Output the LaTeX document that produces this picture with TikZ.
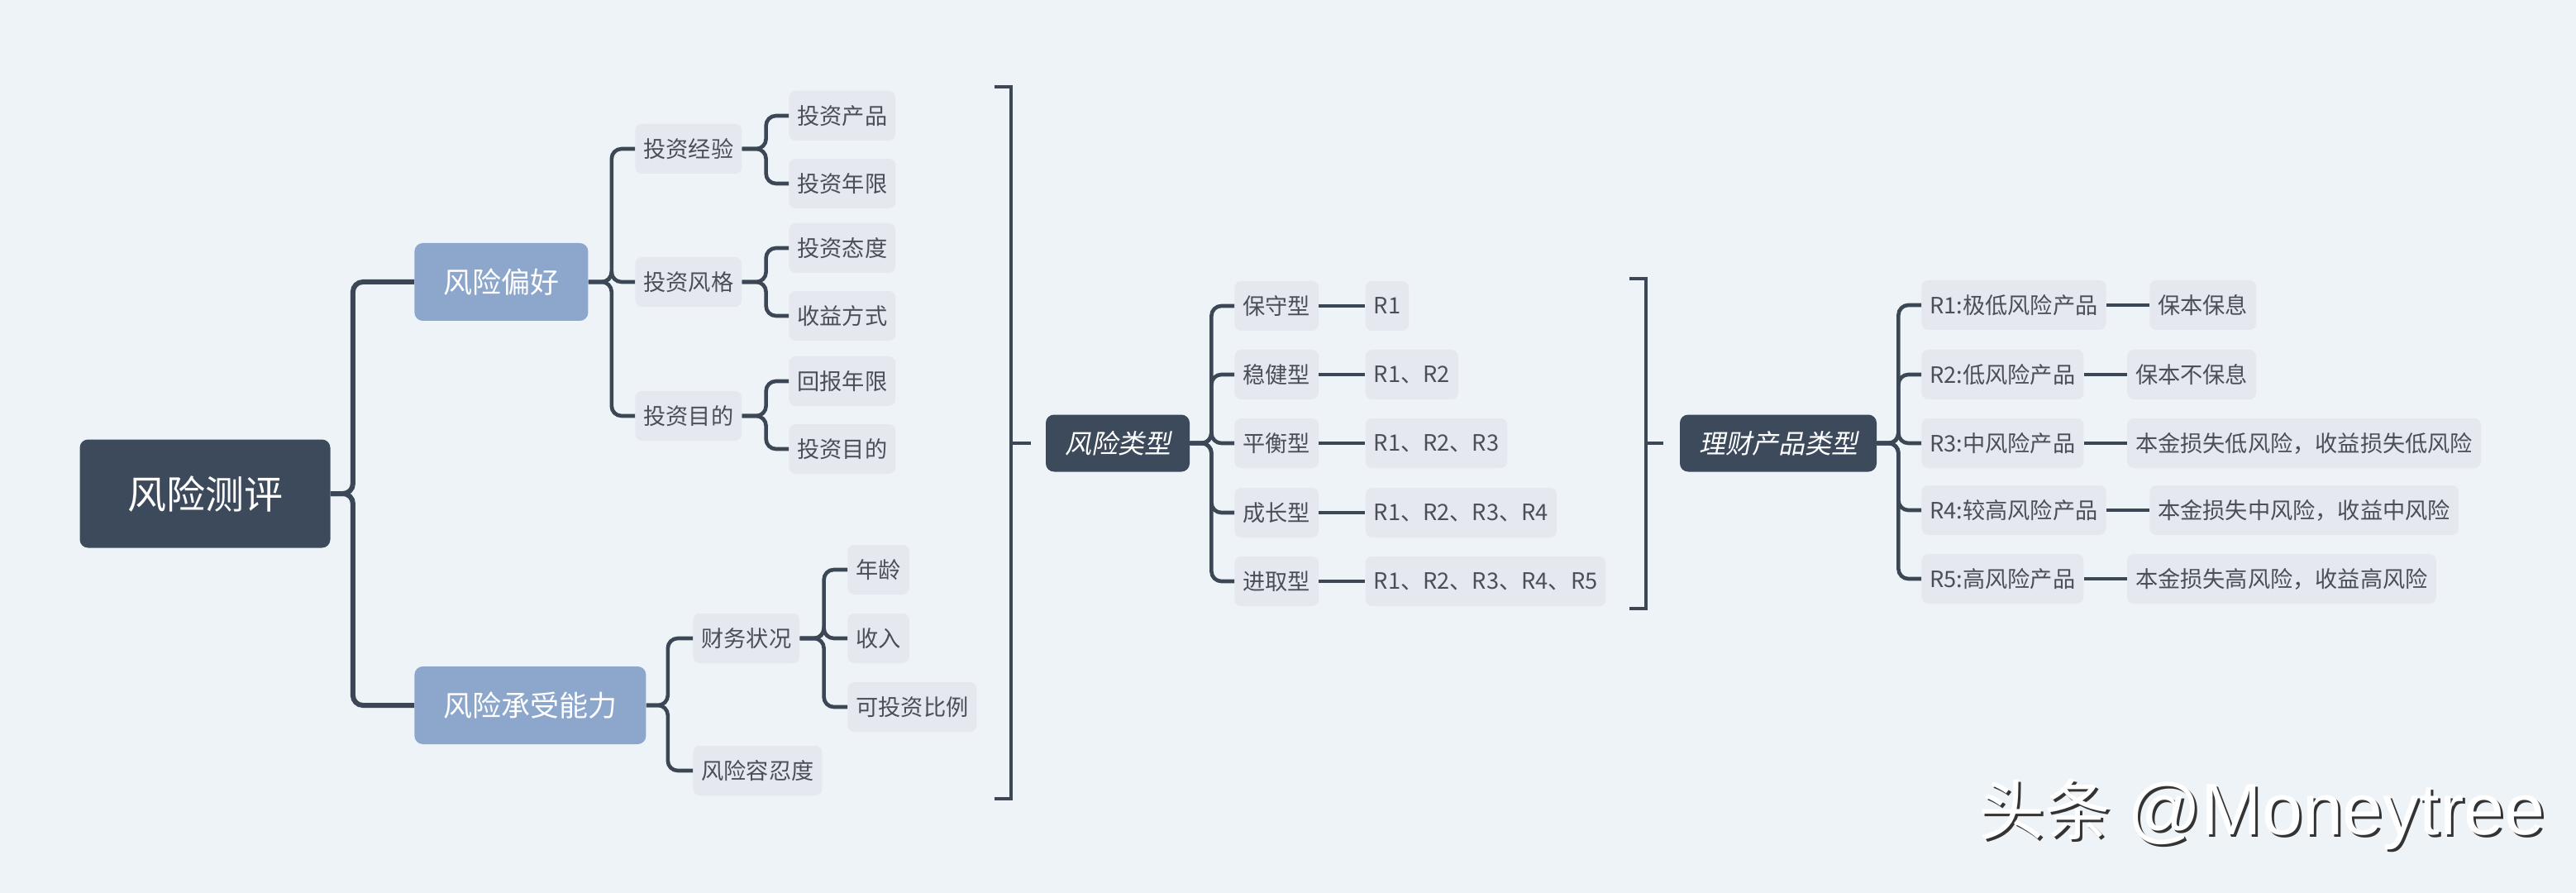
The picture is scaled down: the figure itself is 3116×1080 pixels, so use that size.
\documentclass[tikz,border=0pt]{standalone}
\usepackage{fontspec}
\setmainfont{Noto Sans CJK SC}
\newfontfamily\slantfont[FakeSlant=0.2]{Noto Sans CJK SC}
\newfontfamily\latinfont{Liberation Sans}
\usetikzlibrary{calc}
\usetikzlibrary{positioning}
\definecolor{bgcol}{HTML}{EEF3F8}
\definecolor{darkcol}{HTML}{3C4A5C}
\definecolor{bluecol}{HTML}{8CA6CC}
\definecolor{boxcol}{HTML}{E5E8EE}
\definecolor{txtcol}{HTML}{4A4F57}
\definecolor{linecol}{HTML}{3C4756}
\tikzset{
  rootbox/.style={rectangle, rounded corners=5pt, fill=darkcol, text=white,
    font=\fontsize{23.5}{28}\selectfont, minimum width=151.5pt, minimum height=65.5pt},
  mainbox/.style={rectangle, rounded corners=5pt, fill=bluecol, text=white,
    font=\fontsize{17.5}{21}\selectfont, inner xsep=17.5pt, minimum height=47pt, anchor=west},
  headbox/.style={rectangle, rounded corners=5pt, fill=darkcol, text=white,
    font=\slantfont\fontsize{16}{19}\selectfont, inner xsep=11.5pt, minimum height=34.5pt},
  item/.style={rectangle, rounded corners=4pt, fill=boxcol, text=txtcol,
    font=\fontsize{13.6}{16}\selectfont, inner xsep=5pt, minimum height=30pt, anchor=west},
  branch/.style={draw=linecol, line width=2.3pt, rounded corners=6pt},
  trunk/.style={branch, line width=3pt},
  bracket/.style={draw=linecol, line width=2.2pt}
}

\begin{document}
\begin{tikzpicture}
    [x=0.5pt, y=-0.5pt]
    \fill[bgcol] (0,0) rectangle (3116,1080);
    \useasboundingbox (0,0) rectangle (3116,1080);

    % left tree
    \node[rootbox] (root) at (248,597) {风险测评};
    \node[mainbox] (pref) at (501,341) {风险偏好};
    \node[mainbox] (cap) at (501,853) {风险承受能力};
    \draw[trunk] (root.east) -- ++(27,0) |- (pref.west);
    \draw[trunk] (root.east) -- ++(27,0) |- (cap.west);

    \node[item] (exp) at (768,180) {投资经验};
    \node[item] (sty) at (768,341) {投资风格};
    \node[item] (aim) at (768,503) {投资目的};
    \draw[branch] (pref.east) -- ++(28,0) |- (exp.west);
    \draw[branch] (pref.east) -- ++(28,0) |- (sty.west);
    \draw[branch] (pref.east) -- ++(28,0) |- (aim.west);

    \node[item] (prod) at (954,140) {投资产品};
    \node[item] (years) at (954,222) {投资年限};
    \node[item] (attit) at (954,300) {投资态度};
    \node[item] (gain) at (954,382) {收益方式};
    \node[item] (back) at (954,461) {回报年限};
    \node[item] (goal) at (954,543) {投资目的};
    \draw[branch] (exp.east) -- ++(29,0) |- (prod.west);
    \draw[branch] (exp.east) -- ++(29,0) |- (years.west);
    \draw[branch] (sty.east) -- ++(29,0) |- (attit.west);
    \draw[branch] (sty.east) -- ++(29,0) |- (gain.west);
    \draw[branch] (aim.east) -- ++(29,0) |- (back.west);
    \draw[branch] (aim.east) -- ++(29,0) |- (goal.west);

    \node[item] (fin) at (838,772) {财务状况};
    \node[item] (tol) at (838,932) {风险容忍度};
    \draw[branch] (cap.east) -- ++(26,0) |- (fin.west);
    \draw[branch] (cap.east) -- ++(26,0) |- (tol.west);

    \node[item] (age) at (1025,689) {年龄};
    \node[item] (inc) at (1025,772) {收入};
    \node[item] (ratio) at (1025,855) {可投资比例};
    \draw[branch] (fin.east) -- ++(29,0) |- (age.west);
    \draw[branch] (fin.east) -- ++(29,0) |- (inc.west);
    \draw[branch] (fin.east) -- ++(29,0) |- (ratio.west);

    % first bracket
    \coordinate (b1top) at (1223,105);
    \coordinate (b1bot) at (1223,966);
    \coordinate (b1mid) at (1223,536);
    \draw[bracket] ($(b1top)+(-20,0)$) -- (b1top) -- (b1bot) -- ++(-20,0);

    % risk types
    \node[headbox] (rtype) at (1352,536) {风险类型};
    \draw[bracket] (b1mid) -- ($(rtype.west)+(-18,0)$);
    \node[item] (t1) at (1493,370) {保守型};
    \node[item] (t2) at (1493,453) {稳健型};
    \node[item] (t3) at (1493,536) {平衡型};
    \node[item] (t4) at (1493,620) {成长型};
    \node[item] (t5) at (1493,703) {进取型};
    \draw[branch] (rtype.east) -- ++(26,0) |- (t1.west);
    \draw[branch] (rtype.east) -- ++(26,0) |- (t2.west);
    \draw[branch] (rtype.east) -- ++(26,0) |- (t3.west);
    \draw[branch] (rtype.east) -- ++(26,0) |- (t4.west);
    \draw[branch] (rtype.east) -- ++(26,0) |- (t5.west);

    \node[item, right=28pt of t1] (r1) {R1};
    \node[item, right=28pt of t2] (r2) {R1、R2};
    \node[item, right=28pt of t3] (r3) {R1、R2、R3};
    \node[item, right=28pt of t4] (r4) {R1、R2、R3、R4};
    \node[item, right=28pt of t5] (r5) {R1、R2、R3、R4、R5};
    \draw[branch] (t1.east) -- (r1.west);
    \draw[branch] (t2.east) -- (r2.west);
    \draw[branch] (t3.east) -- (r3.west);
    \draw[branch] (t4.east) -- (r4.west);
    \draw[branch] (t5.east) -- (r5.west);

    % second bracket
    \coordinate (b2top) at (1991,337);
    \coordinate (b2bot) at (1991,736);
    \coordinate (b2mid) at (1991,536);
    \draw[bracket] ($(b2top)+(-20,0)$) -- (b2top) -- (b2bot) -- ++(-20,0);

    % product types
    \node[headbox] (ptype) at (2151,536) {理财产品类型};
    \draw[bracket] (b2mid) -- ($(ptype.west)+(-20,0)$);
    \node[item] (k1) at (2324,369) {R1:极低风险产品};
    \node[item] (k2) at (2324,453) {R2:低风险产品};
    \node[item] (k3) at (2324,536) {R3:中风险产品};
    \node[item] (k4) at (2324,617) {R4:较高风险产品};
    \node[item] (k5) at (2324,700) {R5:高风险产品};
    \draw[branch] (ptype.east) -- ++(26,0) |- (k1.west);
    \draw[branch] (ptype.east) -- ++(26,0) |- (k2.west);
    \draw[branch] (ptype.east) -- ++(26,0) |- (k3.west);
    \draw[branch] (ptype.east) -- ++(26,0) |- (k4.west);
    \draw[branch] (ptype.east) -- ++(26,0) |- (k5.west);

    \node[item, right=26pt of k1] (d1) {保本保息};
    \node[item, right=26pt of k2] (d2) {保本不保息};
    \node[item, right=26pt of k3] (d3) {本金损失低风险，收益损失低风险};
    \node[item, right=26pt of k4] (d4) {本金损失中风险，收益中风险};
    \node[item, right=26pt of k5] (d5) {本金损失高风险，收益高风险};
    \draw[branch] (k1.east) -- (d1.west);
    \draw[branch] (k2.east) -- (d2.west);
    \draw[branch] (k3.east) -- (d3.west);
    \draw[branch] (k4.east) -- (d4.west);
    \draw[branch] (k5.east) -- (d5.west);

    % watermark
    \node[text=black!80, font=\fontsize{44}{48}\selectfont] (wmshadow) at (2739,988)
      {{\fontsize{40}{44}\selectfont 头条}\hspace{10pt}{\latinfont @Moneytree}};
    \node[text=white, font=\fontsize{44}{48}\selectfont] (wm) at (2736,985)
      {{\fontsize{40}{44}\selectfont 头条}\hspace{10pt}{\latinfont @Moneytree}};
\end{tikzpicture}
\end{document}
